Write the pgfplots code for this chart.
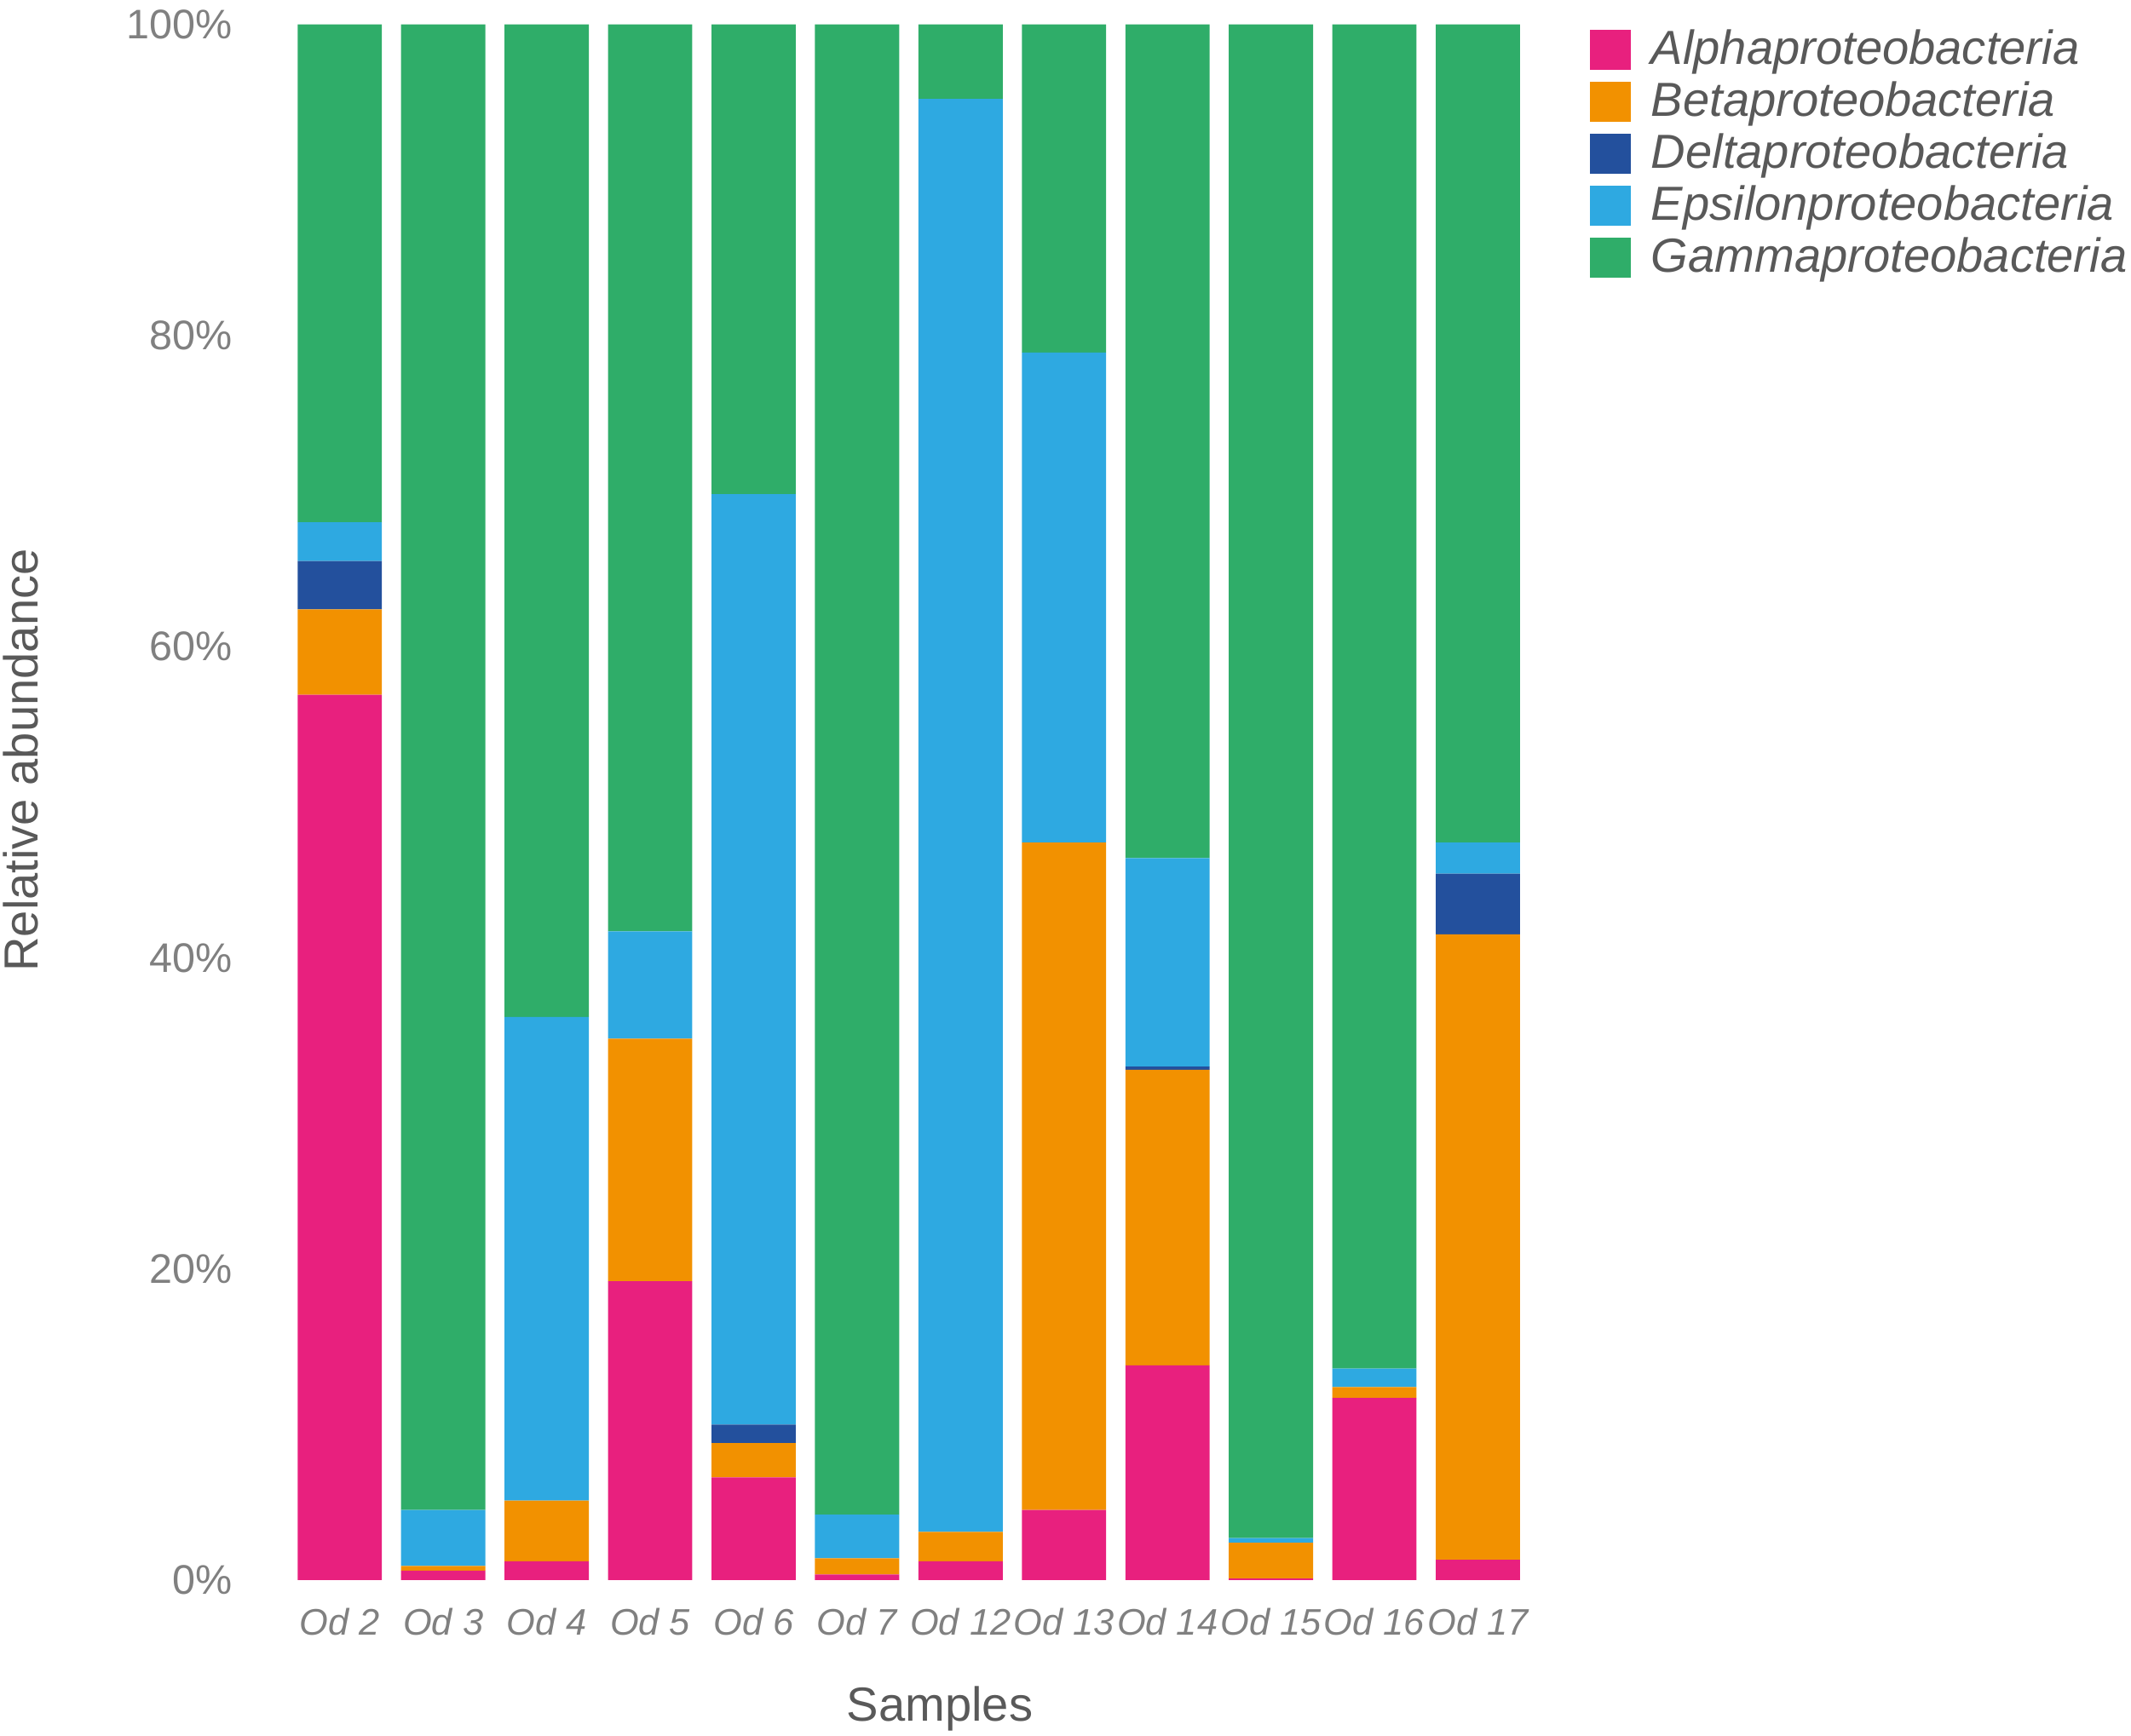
\documentclass[border=0pt]{standalone}
\usepackage{pgfplots}
\pgfplotsset{compat=1.18}
\usepackage{pgfplotstable}
\usepackage{fontspec}
\setmainfont{Liberation Sans}

\definecolor{calpha}{RGB}{232,32,126}
\definecolor{cbeta}{RGB}{242,145,0}
\definecolor{cdelta}{RGB}{35,80,157}
\definecolor{ceps}{RGB}{46,169,225}
\definecolor{cgamma}{RGB}{47,173,105}
\definecolor{tickgray}{RGB}{128,128,128}
\definecolor{labelgray}{RGB}{89,89,89}

\pgfplotstableread{
x A B D E G
0 56.9 5.5 3.1 2.5 32.0
1 0.6 0.3 0 3.6 95.5
2 1.2 3.9 0 31.1 63.8
3 19.2 15.6 0 6.9 58.3
4 6.6 2.2 1.2 59.8 30.2
5 0.35 1.05 0 2.8 95.8
6 1.2 1.9 0 92.1 4.8
7 4.5 42.9 0 31.5 21.1
8 13.8 19.0 0.2 13.4 53.6
9 0.1 2.3 0 0.3 97.3
10 11.7 0.7 0 1.2 86.4
11 1.3 40.2 3.9 2.0 52.6
}\datatable

\begin{document}
\begin{tikzpicture}
\path[use as bounding box] (0,0) rectangle (392pt,319.43pt);
\begin{axis}[
  at={(52.98pt,28.7pt)}, anchor=south west,
  scale only axis, width=228.4pt, height=286.25pt,
  xmin=-0.5, xmax=11.5, ymin=0, ymax=100,
  ybar stacked, bar width=0.814,
  axis line style={draw=none}, major tick length=0pt, tick style={draw=none},
  xtick={0,...,11},
  xticklabels={Od 2,Od 3,Od 4,Od 5,Od 6,Od 7,Od 12,Od 13,Od 14,Od 15,Od 16,Od 17},
  ytick={0,20,40,60,80,100},
  yticklabels={0\%,20\%,40\%,60\%,80\%,100\%},
  /pgf/number format/assume math mode=true,
  xticklabel style={font=\fontsize{6.8}{7}\selectfont\itshape, text=tickgray, inner sep=0pt, anchor=north, yshift=-5pt},
  yticklabel style={font=\fontsize{7.6}{8}\selectfont, text=tickgray, inner sep=0pt, anchor=east, xshift=-10pt},
  xlabel={Samples}, ylabel={Relative abundance},
  every axis x label/.style={at={(axis description cs:0.525,-0.083)}, anchor=center, font=\fontsize{8.8}{9}\selectfont, text=labelgray},
  every axis y label/.style={at={(axis description cs:-0.2154,0.527)}, anchor=center, rotate=90, font=\fontsize{8.8}{9}\selectfont, text=labelgray},
  legend style={at={(axis description cs:1.0486,0.9972)}, anchor=north west, draw=none, fill=none,
    inner sep=0pt, outer sep=0pt, row sep=1.16pt,
    nodes={inner sep=0pt, text height=6.5pt, text depth=1.9pt, font=\fontsize{8.8}{9}\selectfont\itshape, text=labelgray}},
  legend cell align=left,
  legend image code/.code={\fill[#1] (0pt,-3.4pt) rectangle (7.5pt,4.0pt); \path (11.25pt,0pt);},
]
\addplot[fill=calpha, draw=none] table[x=x, y=A] {\datatable};
\addlegendentry{Alphaproteobacteria}
\addplot[fill=cbeta, draw=none] table[x=x, y=B] {\datatable};
\addlegendentry{Betaproteobacteria}
\addplot[fill=cdelta, draw=none] table[x=x, y=D] {\datatable};
\addlegendentry{Deltaproteobacteria}
\addplot[fill=ceps, draw=none] table[x=x, y=E] {\datatable};
\addlegendentry{Epsilonproteobacteria}
\addplot[fill=cgamma, draw=none] table[x=x, y=G] {\datatable};
\addlegendentry{Gammaproteobacteria}
\end{axis}
\end{tikzpicture}
\end{document}
